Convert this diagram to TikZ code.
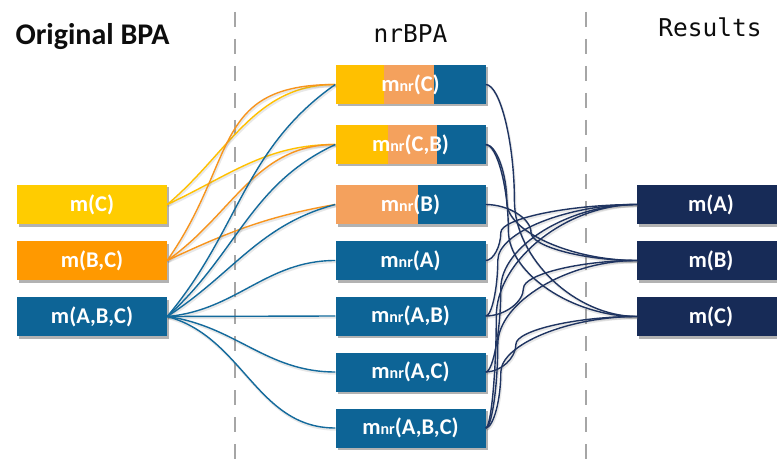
\documentclass[tikz,border=0pt]{standalone}
\usepackage{fontspec}
\setmainfont{Carlito}
\newfontfamily\monof{DejaVu Sans Mono}
\usetikzlibrary{shadows,calc}
\definecolor{cYel}{HTML}{FFCC00}
\definecolor{cYelB}{HTML}{FFC000}
\definecolor{cOrg}{HTML}{FF9900}
\definecolor{cPeach}{HTML}{F4A15D}
\definecolor{cBlue}{HTML}{0D6496}
\definecolor{cNavy}{HTML}{172B57}
\definecolor{lYel}{HTML}{FFC000}
\definecolor{lOrg}{HTML}{F7941D}
\definecolor{lBlue}{HTML}{136A9C}
\definecolor{lNavy}{HTML}{1F3461}
\definecolor{dashgray}{HTML}{A6A6A6}
\newcommand\mnr[1]{m{\fontsize{16}{16}\selectfont nr}#1}
\newcommand\ccon[4][]{\draw[navyline,#1] let \p1=(#2.east), \p2=(#3.west), \n1={\x1+(\x2-\x1)*#4} in (\p1) .. controls ({(\x1+\n1)/2},\y1) and ({\n1*1pt},{\y1+(\y2-\y1)/4}) .. ({\n1*1pt},{(\y1+\y2)/2}) .. controls ({\n1*1pt},{\y1+3*(\y2-\y1)/4}) and ({(\n1+\x2)/2},\y2) .. (\p2);}
\begin{document}
\begin{tikzpicture}[x=1pt,y=-1pt,
  box/.style={minimum width=150pt,minimum height=39pt,inner sep=0pt,text=white,
    font=\fontsize{22.5}{22.5}\selectfont\bfseries,
    drop shadow={shadow xshift=2pt,shadow yshift=-2.5pt,opacity=0.3,fill=black}},
  rbox/.style={box,minimum width=148pt,fill=cNavy},
  conn/.style={line width=1.4pt,preaction={draw=black!60,opacity=0.15,line width=2.2pt,transform canvas={shift={(0.8pt,-1.6pt)}}}},
  yline/.style={conn,draw=lYel},
  oline/.style={conn,draw=lOrg},
  bline/.style={conn,draw=lBlue},
  navyline/.style={conn,draw=lNavy},
  dashline/.style={draw=dashgray,line width=1.6pt,dash pattern=on 15pt off 12pt}]
\clip (0,0) rectangle (777,468);
\fill[white] (0,0) rectangle (777,468);
% dashed separators
\draw[dashline] (235,12) -- (235,468);
\draw[dashline] (586,12) -- (586,468);
% titles
\node[font=\bfseries\fontsize{30}{30}\selectfont,anchor=base,text=black!95] (t1) at (92.5,45) {Original BPA};
\node[font=\monof\fontsize{24.5}{24.5}\selectfont,anchor=base,text=black!95] (t2) at (410.5,43) {nrBPA};
\node[font=\monof\fontsize{24.5}{24.5}\selectfont,anchor=base,text=black!95] (t3) at (710,37) {Results};
% original BPA
\node[box,fill=cYel] (oC) at (92,204.5) {m(C)};
\node[box,fill=cOrg] (oBC) at (92,260.5) {m(B,C)};
\node[box,fill=cBlue] (oABC) at (92,316.5) {m(A,B,C)};
% nrBPA
\node[box,fill=cBlue,path picture={
  \fill[cYelB] (path picture bounding box.south west) rectangle ([xshift=48pt]path picture bounding box.north west);
  \fill[cPeach] ([xshift=48pt]path picture bounding box.south west) rectangle ([xshift=98pt]path picture bounding box.north west);}]
  (nC) at (410.5,84.5) {\mnr{(C)}};
\node[box,fill=cBlue,path picture={
  \fill[cYelB] (path picture bounding box.south west) rectangle ([xshift=52pt]path picture bounding box.north west);
  \fill[cPeach] ([xshift=52pt]path picture bounding box.south west) rectangle ([xshift=101pt]path picture bounding box.north west);}]
  (nCB) at (410.5,144.5) {\mnr{(C,B)}};
\node[box,fill=cBlue,path picture={
  \fill[cPeach] (path picture bounding box.south west) rectangle ([xshift=82pt]path picture bounding box.north west);}]
  (nB) at (410.5,204.5) {\mnr{(B)}};
\node[box,fill=cBlue] (nA) at (410.5,260.5) {\mnr{(A)}};
\node[box,fill=cBlue] (nAB) at (410.5,316) {\mnr{(A,B)}};
\node[box,fill=cBlue] (nAC) at (410.5,372) {\mnr{(A,C)}};
\node[box,fill=cBlue] (nABC) at (410.5,428) {\mnr{(A,B,C)}};
% results
\node[rbox] (rA) at (711,204.5) {m(A)};
\node[rbox] (rB) at (711,260.5) {m(B)};
\node[rbox] (rC) at (711,316.5) {m(C)};
% left connectors
\draw[yline] (oC.east) to[out=40,in=180] (nC.west);
\draw[yline] (oC.east) to[out=25,in=180] (nCB.west);
\draw[oline] (oBC.east) to[out=55,in=180,looseness=1.3] (nC.west);
\draw[oline] (oBC.east) to[out=35,in=180] (nCB.west);
\draw[oline] (oBC.east) to[out=25,in=190] (nB.west);
\draw[bline] (oABC.east) to[out=50,in=215] (nC.west);
\draw[bline] (oABC.east) to[out=42,in=205] (nCB.west);
\draw[bline] (oABC.east) to[out=33,in=195] (nB.west);
\draw[bline] (oABC.east) to[out=5,in=180] (nA.west);
\draw[bline] (oABC.east) -- (nAB.west);
\draw[bline] (oABC.east) to[out=-8,in=180] (nAC.west);
\draw[bline] (oABC.east) to[out=-15,in=180] (nABC.west);
% right connectors
\ccon{nC}{rC}{0.19}
\ccon{nCB}{rB}{0.14}
\ccon{nCB}{rC}{0.15}
\ccon{nB}{rB}{0.3}
\ccon{nA}{rA}{0.1}
\ccon{nAB}{rA}{0.08}
\ccon{nAB}{rB}{0.25}
\ccon{nAC}{rA}{0.1}
\ccon{nAC}{rC}{0.2}
\ccon{nABC}{rA}{0.07}
\ccon{nABC}{rB}{0.08}
\ccon{nABC}{rC}{0.1}
\end{tikzpicture}
\end{document}
